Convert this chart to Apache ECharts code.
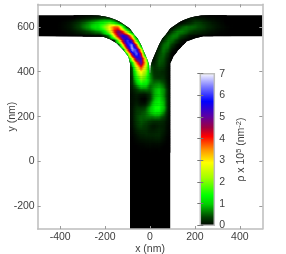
<!DOCTYPE html>
<html><head><meta charset="utf-8">
<style>html,body{margin:0;padding:0;background:#fff}#c{width:286px;height:254px}</style>
<script src="https://cdn.jsdelivr.net/npm/echarts@6/dist/echarts.min.js"></script>
</head><body><div id="c"></div>
<script>
const xTicks=[-400,-200,0,200,400];
const yTicks=[-200,0,200,400,600];
const barTicks=[0,1,2,3,4,5,6,7];
const wallX=[-500,-265,-230,-200,-178,-156,-134,-111,-90,-70,-55,-40,-22,-10,-4,-2,2,4,10,22,40,55,70,90,111,134,156,178,200,230,265,500,500,237,200,163,126,104,90,90,-89,-89,-96,-119,-148,-178,-208,-500];
const wallY=[651,651,650,646,640,632,622,607,592,565,548,520,478,450,430,392,392,430,450,478,520,548,565,592,607,622,632,640,646,650,651,651,558,558,549,534,497,467,438,-300,-300,438,467,497,527,545,556,558];
// density rows: [y, first x, values every 20 nm]
const rhoLeft=[
[640,-320,[.05,.09,.13,.18,.23,.28,.33,.2,.05]],
[620,-400,[.02,.06,.1,.2,.32,.48,.64,.84,1.04,1.28,1.47,1.7,1.2,.4]],
[600,-400,[.03,.07,.12,.25,.39,.59,.78,1.03,1.27,1.57,2.1,3.05,3.7,3.6,1.5]],
[580,-400,[.02,.04,.07,.14,.22,.33,.44,.58,.72,.88,1.47,2.55,4,4.9,3.8,2,.2]],
[560,-280,[.02,.02,.03,.03,.3,.8,2.9,4.7,5.7,4.9,2.8,.2]],
[540,-160,[.05,2.4,4.8,6.2,4.9,1.7,.1]],
[520,-140,[.15,3.2,5.7,6.5,4,.4]],
[500,-120,[.6,4.2,6.7,5.9,2.8,0]],
[480,-100,[1.8,5,6.5,4.5,.3]],
[460,-100,[.5,2.8,5.3,5.4,2.6,0]],
[440,-100,[0,1,3.7,5.2,3.2,.25]]];
const rhoRight=[
[640,160,[.08,.12,.13,.11,.09,.06,.04,.03,.02]],
[620,140,[.04,.15,.24,.4,.4,.29,.22,.14,.1,.05]],
[600,100,[.04,.24,.46,.58,.58,.52,.46,.36,.27,.18,.13,.07,.04,.02]],
[580,80,[.1,.4,.66,.72,.6,.45,.33,.3,.22,.16,.11,.07,.04,.03]],
[560,60,[.08,.42,.68,.66,.43,.24,.09,.04,.03,.02,.02]],
[540,40,[.03,.32,.65,.63,.36,.1]],
[520,40,[.18,.58,.65,.36,.07]],
[500,20,[.03,.29,.65,.5,.13]],
[480,20,[.07,.4,.58,.3]],
[460,20,[.13,.5,.5,.18]],
[440,20,[.2,.5,.45,.13]]];
const rhoStem=[
[420,-80,[.5,2.5,4,2.7,.6,.3,.42,.36,.1]],
[400,-80,[.4,1.9,3,2.3,.7,.3,.3,.25,.1]],
[380,-80,[.35,1.5,2.3,1.9,.8,.35,.3,.3,.1]],
[360,-80,[.3,1.1,1.8,1.6,.8,.5,.5,.4,.1]],
[340,-80,[.25,.7,1.2,1.2,.6,.7,.8,.6,.15]],
[320,-80,[.15,.35,.55,.6,.5,.85,1,.8,.2]],
[300,-80,[.1,.2,.15,.15,.35,.85,1.05,.8,.2]],
[280,-80,[.1,.15,.03,.02,.3,.9,1.15,.85,.2]],
[260,-80,[.1,.2,.1,.1,.55,1.2,1.4,1,.2]],
[240,-80,[.12,.3,.3,.4,.85,1.45,1.5,1.05,.2]],
[220,-80,[.12,.35,.45,.55,.9,1.25,1.2,.8,.15]],
[200,-80,[.12,.38,.5,.55,.6,.7,.65,.45,.1]],
[180,-80,[.1,.35,.5,.45,.35,.3,.3,.25,.08]],
[160,-80,[.08,.3,.42,.35,.2,.15,.2,.2,.05]],
[140,-80,[.05,.2,.3,.3,.2,.2,.25,.2,.05]],
[120,-80,[.03,.12,.2,.25,.22,.25,.25,.15,.03]],
[100,-80,[.01,.07,.12,.15,.15,.18,.18,.1,.01]],
[80,-80,[0,.03,.05,.08,.08,.08,.08,.04,0]],
[60,-80,[0,.01,.02,.03,.03,.03,.03,.01,0]]];
const paletteValues=[0,.4,1,1.4,2.2,2.9,3.5,4.1,4.5,5,5.7,6.4,7];
const paletteColors=['#000000','#004000','#00d000','#00ff00','#a0ff00','#ffff00','#ff9000','#ff0000','#a00040','#6000a0','#0000ff','#8080ff','#ffffff'];

const STEP=20,SUB=4,greyLine='#bdbdbd',textCol='#404040',fontFam='"Liberation Sans",Arial,sans-serif';
const rgb=paletteColors.map(c=>[1,3,5].map(i=>parseInt(c.substr(i,2),16)));
function colorOf(v){
  let i=0;while(i<paletteValues.length-2&&v>paletteValues[i+1])i++;
  const t=Math.max(0,Math.min(1,(v-paletteValues[i])/(paletteValues[i+1]-paletteValues[i])));
  const c=rgb[i].map((a,k)=>Math.round(a+(rgb[i+1][k]-a)*t));
  return 'rgb('+c.join(',')+')';
}
const lookup={};
[rhoLeft,rhoRight,rhoStem].forEach(tb=>tb.forEach(r=>r[2].forEach((v,i)=>{lookup[(r[1]+i*STEP)+'_'+r[0]]=v;})));
const at=(x,y)=>lookup[x+'_'+y]||0;
const cellSet={};
Object.keys(lookup).forEach(k=>{const p=k.split('_').map(Number);
  [[0,0],[-STEP,0],[0,-STEP],[-STEP,-STEP]].forEach(d=>{cellSet[(p[0]+d[0])+'_'+(p[1]+d[1])]=1;});});
const cells=Object.keys(cellSet).map(k=>k.split('_').map(Number));

const axisCommon={axisLine:{show:true,onZero:false,lineStyle:{color:greyLine,width:1.5}},
  splitLine:{show:false},z:5};
function mkTick(vals){return {show:true,inside:true,length:3,customValues:vals,lineStyle:{color:'#9a9a9a',width:1}};}
const lab={color:textCol,fontSize:10.5,fontFamily:fontFam};
const chart=echarts.init(document.getElementById('c'),null,{renderer:'canvas'});
chart.setOption({
  animation:false,backgroundColor:'#fff',
  grid:[{left:37.7,top:4.3,width:224.6,height:224.7,outerBoundsMode:'none'},{left:200.3,top:73.7,width:14,height:151.6,outerBoundsMode:'none'}],
  xAxis:[
    Object.assign({},axisCommon,{type:'value',gridIndex:0,min:-500,max:500,position:'bottom',axisTick:mkTick(xTicks),
      axisLabel:Object.assign({},lab,{margin:3,customValues:xTicks}),
      name:'x (nm)',nameLocation:'middle',nameGap:15,nameMoveOverlap:false,nameTextStyle:Object.assign({},lab)}),
    Object.assign({},axisCommon,{type:'value',gridIndex:0,min:-500,max:500,position:'top',axisTick:mkTick(xTicks),axisLabel:{show:false}}),
    {type:'value',gridIndex:1,min:0,max:1,show:false}
  ],
  yAxis:[
    Object.assign({},axisCommon,{type:'value',gridIndex:0,min:-300,max:700,position:'left',axisTick:mkTick(yTicks),
      axisLabel:Object.assign({},lab,{margin:3,customValues:yTicks}),
      name:'y (nm)',nameLocation:'middle',nameGap:20,nameRotate:90,nameMoveOverlap:false,nameTextStyle:Object.assign({},lab)}),
    Object.assign({},axisCommon,{type:'value',gridIndex:0,min:-300,max:700,position:'right',axisTick:mkTick(yTicks),axisLabel:{show:false}}),
    Object.assign({},axisCommon,{type:'value',gridIndex:1,min:0,max:7,interval:1,position:'right',
      axisLine:{show:false},axisTick:{show:true,inside:true,length:3,lineStyle:{color:'#777',width:1}},
      axisLabel:Object.assign({},lab,{margin:5,customValues:barTicks}),
      name:'{a|ρ x 10}{s|5}{a| (nm}{s|-2}{a|)}',nameLocation:'middle',nameGap:21,nameRotate:90,nameMoveOverlap:false,
      nameTextStyle:{rich:{a:Object.assign({},lab),s:{color:textCol,fontSize:7.5,fontFamily:fontFam,verticalAlign:'top',lineHeight:10,padding:[0,0,5,0]}}}}),
    Object.assign({},axisCommon,{type:'value',gridIndex:1,min:0,max:7,interval:1,position:'left',
      axisLine:{show:false},axisTick:{show:true,inside:true,length:3,lineStyle:{color:'#777',width:1}},axisLabel:{show:false}})
  ],
  series:[
    {type:'custom',xAxisIndex:0,yAxisIndex:0,data:[[0]],silent:true,z:1,
     renderItem:(p,api)=>({type:'polygon',shape:{points:wallX.map((x,i)=>api.coord([x,wallY[i]]))},style:{fill:'#000'}})},
    {type:'custom',xAxisIndex:0,yAxisIndex:0,data:cells,silent:true,z:2,
     renderItem:(p,api)=>{
       const x=api.value(0),y=api.value(1),kids=[];
       const a=at(x,y),b=at(x+STEP,y),c=at(x,y+STEP),d=at(x+STEP,y+STEP);
       for(let i=0;i<SUB;i++)for(let j=0;j<SUB;j++){
         const u=(i+.5)/SUB,w=(j+.5)/SUB;
         const v=(a*(1-u)+b*u)*(1-w)+(c*(1-u)+d*u)*w;
         const tl=api.coord([x+i*STEP/SUB,y+(j+1)*STEP/SUB]),br=api.coord([x+(i+1)*STEP/SUB,y+j*STEP/SUB]);
         kids.push({type:'rect',shape:{x:tl[0],y:tl[1],width:br[0]-tl[0]+.4,height:br[1]-tl[1]+.4},style:{fill:colorOf(v)}});
       }
       return {type:'group',clipPath:{type:'polygon',shape:{points:wallX.map((xx,i)=>api.coord([xx,wallY[i]]))}},children:kids};
     }},
    {type:'custom',xAxisIndex:2,yAxisIndex:2,data:[[0]],silent:true,z:2,
     renderItem:(p,api)=>{
       const tl=api.coord([0,7]),br=api.coord([1,0]);
       return {type:'rect',shape:{x:tl[0],y:tl[1],width:br[0]-tl[0],height:br[1]-tl[1]},
         style:{stroke:greyLine,lineWidth:1.5,fill:new echarts.graphic.LinearGradient(0,1,0,0,
           paletteValues.map((v,i)=>({offset:v/7,color:paletteColors[i]})))}};
     }}
  ]
});
</script></body></html>
